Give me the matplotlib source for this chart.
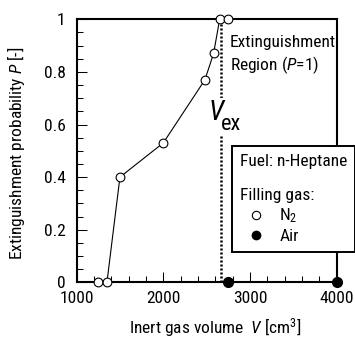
import matplotlib
matplotlib.use("Agg")
import matplotlib.pyplot as plt
from matplotlib.lines import Line2D
from matplotlib.ticker import MultipleLocator

# ---- data ----
n2_V = [1250, 1350, 1500, 2000, 2480, 2580, 2650, 2750]
n2_P = [0.0, 0.0, 0.40, 0.53, 0.77, 0.87, 1.0, 1.0]
air_V = [2750, 4000]
air_P = [0.0, 0.0]
V_ex = 2670
xticks = [1000, 2000, 3000, 4000]
yticks = [0, 0.2, 0.4, 0.6, 0.8, 1.0]
yticklabels = ["0", "0.2", "0.4", "0.6", "0.8", "1"]

FN = "Roboto Condensed"
FONT = [FN, "Liberation Sans", "DejaVu Sans"]
plt.rcParams["font.family"] = FONT
plt.rcParams["mathtext.fontset"] = "custom"
plt.rcParams["mathtext.rm"] = FN
plt.rcParams["mathtext.it"] = FN + ":italic"
plt.rcParams["mathtext.default"] = "regular"

fs = 12.5
fig = plt.figure(figsize=(3.55, 3.40), dpi=100)
ax = fig.add_axes([76.6/355, 1-282.3/340, (336.7-76.6)/355, (282.3-19.3)/340])

ax.plot(n2_V, n2_P, color="black", lw=0.8, marker="o", ms=6.3,
        mfc="white", mec="black", mew=0.8, clip_on=False, zorder=5)
ax.plot(air_V, air_P, ls="none", marker="o", ms=7, mfc="black",
        mec="black", clip_on=False, zorder=6)
ax.plot([V_ex, V_ex], [0, 1], color="black", lw=1.8,
        ls=(0, (0.8, 0.8)), zorder=3)

ax.set_xlim(1000, 4000)
ax.set_ylim(0, 1)
ax.set_xticks(xticks)
ax.set_yticks(yticks)
ax.set_yticklabels(yticklabels)
ax.xaxis.set_minor_locator(MultipleLocator(200))
ax.yaxis.set_minor_locator(MultipleLocator(0.05))
ax.tick_params(which="both", direction="in", top=False, right=False,
               labelsize=fs, width=0.75)
ax.tick_params(which="major", length=7.2)
ax.tick_params(which="minor", length=4.3)
ax.tick_params(axis="x", pad=6.5)
ax.tick_params(axis="y", pad=8)
for s in ax.spines.values():
    s.set_linewidth(1.5)

ax.set_xlabel(r"Inert gas volume  $\mathit{V}$ [cm$^{3}$]", fontsize=fs)
ax.xaxis.set_label_coords(0.532, -0.13)
ax.set_ylabel(r"Extinguishment probability $\mathit{P}$ [-]", fontsize=fs)
ax.yaxis.set_label_coords(-0.19, 0.49)

ax.text(2769, 0.862, "Extinguishment\n" + r"Region ($\mathit{P}$=1)",
        fontsize=fs, ha="left", va="center", linespacing=1.25)

ax.text(2608, 0.645, "V", fontsize=20, style="italic", ha="center",
        va="center", zorder=4,
        bbox=dict(facecolor="white", edgecolor="none", pad=1))
ax.text(2660, 0.578, "ex", fontsize=16, ha="left", va="baseline", zorder=4,
        bbox=dict(facecolor="white", edgecolor="none", pad=0.5))

handles = [
    Line2D([], [], ls="none", marker="o", ms=6, mfc="white", mec="black", mew=0.8),
    Line2D([], [], ls="none", marker="o", ms=6, mfc="black", mec="black"),
]
leg = fig.legend(handles, [r"N$_{2}$", "Air"], loc="upper left",
                 bbox_to_anchor=(232.3/355, 1-145.7/340),
                 bbox_transform=fig.transFigure, borderaxespad=0,
                 title="Fuel: n-Heptane\n\nFilling gas:", title_fontsize=fs,
                 fontsize=fs, alignment="left", fancybox=False,
                 framealpha=1, edgecolor="black", borderpad=0.45,
                 handlelength=1.8, handletextpad=0.45, labelspacing=0.2,
                 numpoints=1)
leg.get_frame().set_linewidth(1.4)
leg.set_zorder(10)

fig.savefig("out.png", dpi=100)
